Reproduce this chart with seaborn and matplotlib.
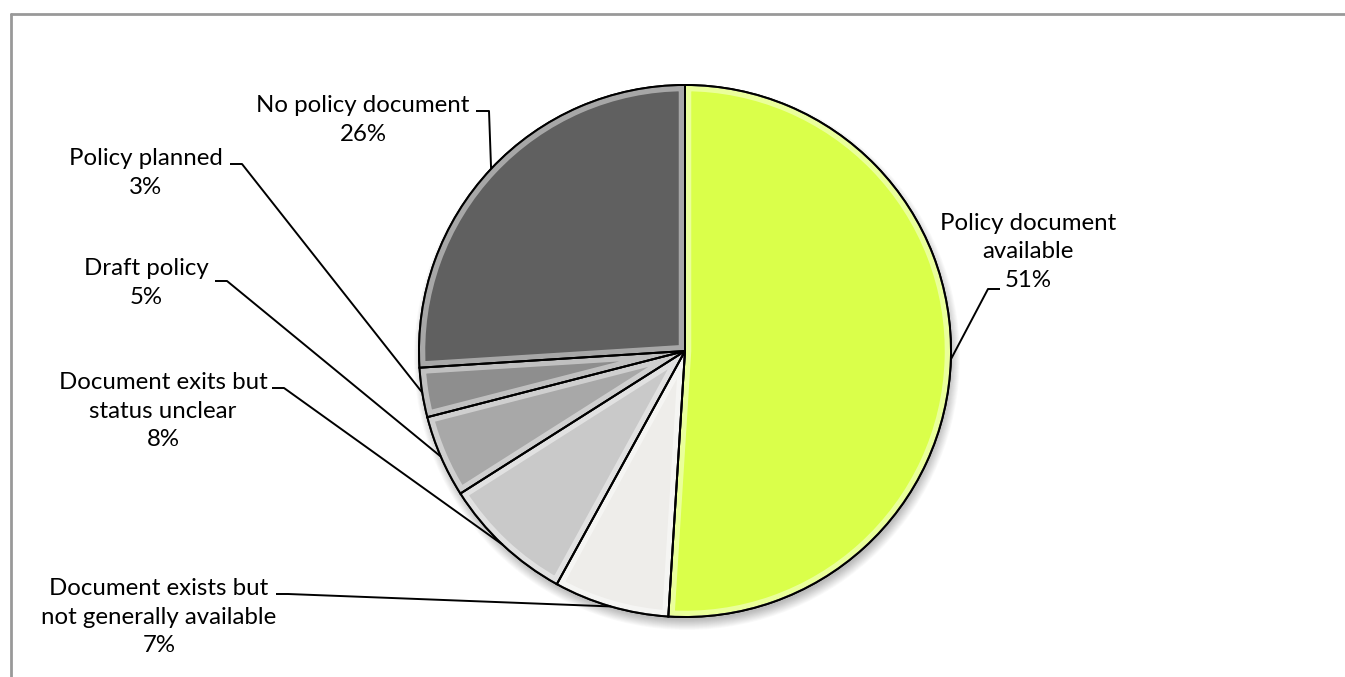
import numpy as np
import matplotlib
matplotlib.use("Agg")
import matplotlib.pyplot as plt
import seaborn as sns

# Policy status categories, clockwise from 12 o'clock
categories = [
    "Policy document\navailable",
    "Document exists but\nnot generally available",
    "Document exits but\nstatus unclear",
    "Draft policy",
    "Policy planned",
    "No policy document",
]
shares = [51, 7, 8, 5, 3, 26]
colors = ["#DAFF4A", "#EEEDEA", "#C9C9C9", "#A8A8A8", "#8E8E8E", "#606060"]

sns.set_theme(style="white")
plt.rcParams["font.family"] = ["Lato", "DejaVu Sans"]

W, H = 1345, 677
fig = plt.figure(figsize=(W / 100, H / 100), dpi=100)
ax = fig.add_axes([0, 0, 1, 1])


def py(y):
    # figure works in pixel-like units with y measured from the top
    return H - y


cx, cy, R = 685, py(351), 266

# soft drop shadow under the pie
for k in range(14):
    shadow = plt.Circle((cx + 2, cy - 6), R + 7 - k * 0.8, color="black",
                        alpha=0.018, lw=0, zorder=0)
    ax.add_patch(shadow)

wedges, _ = ax.pie(shares, colors=colors, startangle=90, counterclock=False,
                   center=(cx, cy), radius=R,
                   wedgeprops=dict(edgecolor="black", linewidth=1.4))

# bevel-like highlight band inside each wedge
for w in wedges:
    w.set_zorder(2)
    band = matplotlib.patches.Wedge(w.center, w.r, w.theta1, w.theta2,
                                    fill=False, edgecolor="white", lw=9,
                                    alpha=0.45, zorder=3)
    band.set_clip_path(w)
    ax.add_patch(band)
    inner = matplotlib.patches.Wedge(w.center, w.r, w.theta1, w.theta2,
                                     fill=False, edgecolor="black", lw=1.4,
                                     zorder=4)
    ax.add_patch(inner)

# label block centres and leader-line elbows (x, y from top)
label_pos = [(1028, 252), (159, 617), (163, 411), (146, 283), (146, 173), (363, 120)]
elbows = [
    [(1000, 289), (988, 289)],
    [(276, 594), (288, 594)],
    [(272, 388), (284, 388)],
    [(215, 281), (227, 281)],
    [(230, 164), (242, 164)],
    [(476, 111), (489, 111)],
]

for cat, val, w, (lx, ly), elb in zip(categories, shares, wedges, label_pos, elbows):
    mid = np.deg2rad((w.theta1 + w.theta2) / 2)
    ex = cx + R * np.cos(mid)
    ey = cy + R * np.sin(mid)
    xs = [p[0] for p in elb] + [ex]
    ys = [py(p[1]) for p in elb] + [ey]
    ax.plot(xs, ys, color="black", lw=1.4, zorder=5, solid_capstyle="butt")
    ax.text(lx, py(ly), f"{cat}\n{val}%", ha="center", va="center",
            multialignment="center", fontsize=17.3, color="black",
            linespacing=1.42, zorder=6)

# chart frame
ax.plot([11, W], [py(14), py(14)], color="#999999", lw=2, zorder=1)
ax.plot([11, 11], [py(14), 0], color="#999999", lw=2, zorder=1)

ax.set_xlim(0, W)
ax.set_ylim(0, H)
ax.set_aspect("equal")
ax.axis("off")

fig.savefig("out.png", dpi=100, facecolor="white")
